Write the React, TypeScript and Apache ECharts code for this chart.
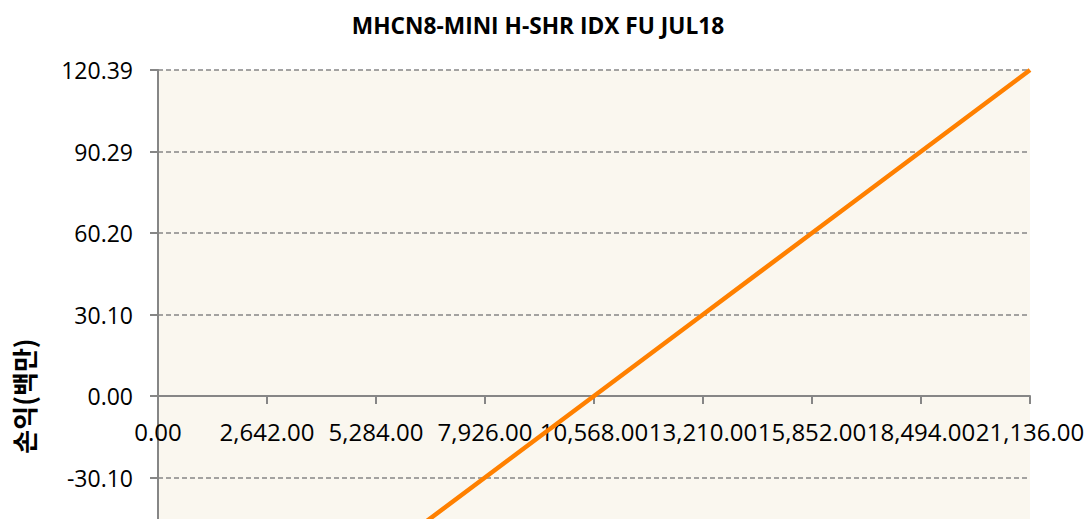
import React, { useEffect, useRef } from "react";
import * as echarts from "echarts";

const titleText = "MHCN8-MINI H-SHR IDX FU JUL18";
const yAxisName = "손익(백만)";
const xValues = [0, 2642, 5284, 7926, 10568, 13210, 15852, 18494, 21136];
const pnlValues = [-120.39, -90.29, -60.2, -30.1, 0.0, 30.1, 60.2, 90.29, 120.39];
const yMax = 120.39;
const xMax = 21136;
const xStep = 2642;

const fmt = (v: number) =>
  v.toLocaleString("en-US", { minimumFractionDigits: 2, maximumFractionDigits: 2 });

export default function App() {
  const ref = useRef<HTMLDivElement>(null);
  useEffect(() => {
    const chart = echarts.init(ref.current!, null, { renderer: "svg" });
    const font = "'Open Sans', 'Noto Sans', sans-serif";
    const gridTop = 70;
    const gridBottom = 38;
    const height = 760;
    chart.setOption({
      animation: false,
      backgroundColor: "#ffffff",
      title: {
        text: titleText,
        left: 533,
        top: 9,
        textAlign: "center",
        textStyle: { fontFamily: font, fontWeight: "bold", fontSize: 22.7, color: "#000" },
      },
      grid: {
        left: 158,
        right: 58,
        top: gridTop,
        bottom: gridBottom,
        show: true,
        backgroundColor: "#FAF7EF",
        borderWidth: 0,
        containLabel: false,
        outerBoundsMode: "none",
      },
      xAxis: {
        type: "value",
        min: 0,
        max: xMax,
        interval: xStep,
        position: "bottom",
        offset: 0,
        axisLine: { onZero: false, lineStyle: { color: "#868686", width: 2 } },
        axisTick: { show: true, length: 8, lineStyle: { color: "#868686", width: 2 } },
        axisLabel: {
          show: true,
          hideOverlap: false,
          showMinLabel: true,
          showMaxLabel: true,
          formatter: (v: number) => fmt(v),
          fontFamily: font,
          fontSize: 24,
          color: "#000",
          margin: 23,
        },
        splitLine: { show: false },
      },
      yAxis: {
        type: "value",
        min: -yMax,
        max: yMax,
        interval: yMax / 4,
        name: yAxisName,
        nameLocation: "middle",
        nameGap: 122,
        nameMoveOverlap: false,
        nameTextStyle: {
          fontFamily: "'Noto Sans CJK KR', sans-serif",
          fontWeight: "bold",
          fontSize: 26,
          color: "#000",
        },
        axisLine: { show: true, onZero: false, lineStyle: { color: "#868686", width: 2 } },
        axisTick: { show: true, length: 8, lineStyle: { color: "#868686", width: 2 } },
        axisLabel: {
          formatter: (v: number) => v.toFixed(2),
          fontFamily: font,
          fontSize: 23,
          color: "#000",
          margin: 25,
        },
        splitLine: { show: true, lineStyle: { color: "#868686", type: [5, 3], width: 1.5 } },
      },
      series: [
        {
          type: "line",
          data: xValues.map((x, i) => [x, pnlValues[i]]),
          showSymbol: false,
          lineStyle: { color: "#FF8000", width: 4.5 },
          itemStyle: { color: "#FF8000" },
        },
      ],
    });
    // place the x axis (line, ticks, labels) on y = 0 through the y scale
    const zeroY = chart.convertToPixel({ yAxisIndex: 0 }, 0) as number;
    const bottomY = height - gridBottom;
    chart.setOption({ xAxis: { offset: -(bottomY - zeroY) } });
    return () => chart.dispose();
  }, []);
  return (
    <div
      ref={ref}
      style={{ position: "fixed", left: 0, top: 0, width: 1088, height: 760 }}
    />
  );
}
